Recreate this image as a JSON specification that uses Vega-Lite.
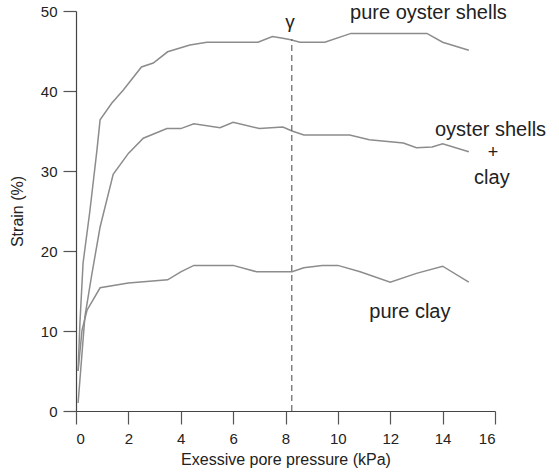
{
  "$schema": "https://vega.github.io/schema/vega-lite/v6.json",
  "width": 419,
  "height": 400,
  "autosize": "none",
  "padding": {"left": 76, "top": 11, "right": 64, "bottom": 62},
  "background": "white",
  "config": {
    "view": {"stroke": null},
    "font": "Liberation Sans",
    "axis": {
      "grid": false,
      "domainColor": "#444",
      "tickColor": "#555",
      "tickSize": 13,
      "domainWidth": 1.2,
      "tickWidth": 1.2,
      "labelFont": "Liberation Sans",
      "labelFontSize": 15,
      "labelColor": "#222",
      "titleFont": "Liberation Sans",
      "titleFontSize": 16,
      "titleFontWeight": "normal",
      "titleColor": "#222"
    }
  },
  "datasets": {
    "curves": [
      {"series": "pure oyster shells", "p": 0.08, "s": 5},
      {"series": "pure oyster shells", "p": 0.15, "s": 11},
      {"series": "pure oyster shells", "p": 0.27, "s": 18.5},
      {"series": "pure oyster shells", "p": 0.53, "s": 25},
      {"series": "pure oyster shells", "p": 0.8, "s": 32.6},
      {"series": "pure oyster shells", "p": 0.92, "s": 36.4},
      {"series": "pure oyster shells", "p": 1.37, "s": 38.5},
      {"series": "pure oyster shells", "p": 1.8, "s": 40.1},
      {"series": "pure oyster shells", "p": 2.5, "s": 43},
      {"series": "pure oyster shells", "p": 2.95, "s": 43.5},
      {"series": "pure oyster shells", "p": 3.5, "s": 44.9},
      {"series": "pure oyster shells", "p": 4.35, "s": 45.75},
      {"series": "pure oyster shells", "p": 5, "s": 46.1},
      {"series": "pure oyster shells", "p": 6.95, "s": 46.1},
      {"series": "pure oyster shells", "p": 7.5, "s": 46.8},
      {"series": "pure oyster shells", "p": 7.9, "s": 46.6},
      {"series": "pure oyster shells", "p": 8.2, "s": 46.4},
      {"series": "pure oyster shells", "p": 8.55, "s": 46.1},
      {"series": "pure oyster shells", "p": 9.5, "s": 46.1},
      {"series": "pure oyster shells", "p": 10.5, "s": 47.2},
      {"series": "pure oyster shells", "p": 13.4, "s": 47.2},
      {"series": "pure oyster shells", "p": 14, "s": 46.1},
      {"series": "pure oyster shells", "p": 15, "s": 45.1},
      {"series": "oyster shells + clay", "p": 0.08, "s": 1},
      {"series": "oyster shells + clay", "p": 0.34, "s": 11.8},
      {"series": "oyster shells + clay", "p": 0.6, "s": 17},
      {"series": "oyster shells + clay", "p": 0.92, "s": 23},
      {"series": "oyster shells + clay", "p": 1.42, "s": 29.6},
      {"series": "oyster shells + clay", "p": 2, "s": 32.2},
      {"series": "oyster shells + clay", "p": 2.57, "s": 34.1},
      {"series": "oyster shells + clay", "p": 3.47, "s": 35.3},
      {"series": "oyster shells + clay", "p": 4, "s": 35.3},
      {"series": "oyster shells + clay", "p": 4.5, "s": 35.9},
      {"series": "oyster shells + clay", "p": 5.5, "s": 35.4},
      {"series": "oyster shells + clay", "p": 6, "s": 36.1},
      {"series": "oyster shells + clay", "p": 7, "s": 35.3},
      {"series": "oyster shells + clay", "p": 7.9, "s": 35.5},
      {"series": "oyster shells + clay", "p": 8.25, "s": 35},
      {"series": "oyster shells + clay", "p": 8.7, "s": 34.5},
      {"series": "oyster shells + clay", "p": 10.45, "s": 34.5},
      {"series": "oyster shells + clay", "p": 11.2, "s": 33.9},
      {"series": "oyster shells + clay", "p": 12.5, "s": 33.5},
      {"series": "oyster shells + clay", "p": 13, "s": 32.9},
      {"series": "oyster shells + clay", "p": 13.6, "s": 33},
      {"series": "oyster shells + clay", "p": 14, "s": 33.4},
      {"series": "oyster shells + clay", "p": 15, "s": 32.4},
      {"series": "pure clay", "p": 0.08, "s": 5},
      {"series": "pure clay", "p": 0.23, "s": 10.1},
      {"series": "pure clay", "p": 0.42, "s": 12.6},
      {"series": "pure clay", "p": 0.92, "s": 15.4},
      {"series": "pure clay", "p": 2, "s": 16},
      {"series": "pure clay", "p": 3.5, "s": 16.4},
      {"series": "pure clay", "p": 4, "s": 17.4},
      {"series": "pure clay", "p": 4.5, "s": 18.2},
      {"series": "pure clay", "p": 6, "s": 18.2},
      {"series": "pure clay", "p": 6.9, "s": 17.4},
      {"series": "pure clay", "p": 8.25, "s": 17.4},
      {"series": "pure clay", "p": 8.7, "s": 17.9},
      {"series": "pure clay", "p": 9.4, "s": 18.2},
      {"series": "pure clay", "p": 10, "s": 18.2},
      {"series": "pure clay", "p": 10.85, "s": 17.4},
      {"series": "pure clay", "p": 12, "s": 16.1},
      {"series": "pure clay", "p": 13, "s": 17.2},
      {"series": "pure clay", "p": 14, "s": 18.1},
      {"series": "pure clay", "p": 15, "s": 16.1}
    ],
    "marker": [
      {"p": 8.24, "s0": 0, "s1": 46.5}
    ],
    "labels": [
      {"text": "γ", "p": 8.17, "s": 48.6, "size": 19},
      {"text": "pure oyster shells", "p": 13.46, "s": 49.75, "size": 20},
      {"text": "oyster shells", "p": 15.83, "s": 35.1, "size": 20},
      {"text": "+", "p": 15.92, "s": 32.25, "size": 18},
      {"text": "clay", "p": 15.88, "s": 29.1, "size": 20},
      {"text": "pure clay", "p": 12.75, "s": 12.4, "size": 20}
    ]
  },
  "layer": [
    {
      "data": {"name": "curves"},
      "mark": {"type": "line", "strokeWidth": 1.5, "color": "#8c8c8c"},
      "encoding": {
        "x": {
          "field": "p",
          "type": "quantitative",
          "scale": {"domain": [0, 16], "nice": false, "zero": false},
          "axis": {"values": [0, 2, 4, 6, 8, 10, 12, 14, 16], "labelPadding": 7, "titlePadding": 5},
          "title": "Exessive pore pressure (kPa)"
        },
        "y": {
          "field": "s",
          "type": "quantitative",
          "scale": {"domain": [0, 50], "nice": false},
          "axis": {"values": [0, 10, 20, 30, 40, 50], "labelPadding": 6, "titlePadding": 15},
          "title": "Strain (%)"
        },
        "detail": {"field": "series", "type": "nominal"}
      }
    },
    {
      "data": {"name": "marker"},
      "mark": {"type": "rule", "color": "#666", "strokeWidth": 1.2, "strokeDash": [6, 4]},
      "encoding": {
        "x": {"field": "p", "type": "quantitative"},
        "y": {"field": "s0", "type": "quantitative"},
        "y2": {"field": "s1"}
      }
    },
    {
      "data": {"name": "labels"},
      "mark": {"type": "text", "color": "#222", "align": "center", "baseline": "middle", "clip": false, "font": "Liberation Sans"},
      "encoding": {
        "x": {"field": "p", "type": "quantitative"},
        "y": {"field": "s", "type": "quantitative"},
        "text": {"field": "text"},
        "size": {"field": "size", "type": "quantitative", "scale": null, "legend": null}
      }
    }
  ]
}
